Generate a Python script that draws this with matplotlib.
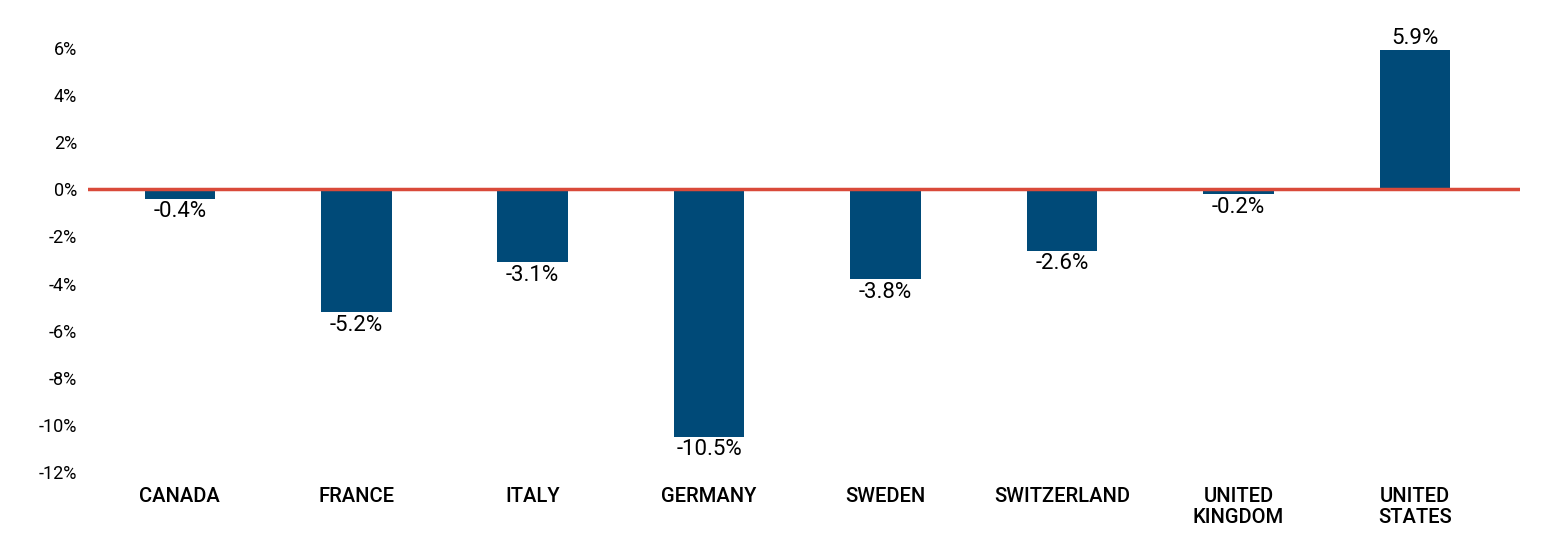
import matplotlib.pyplot as plt
import numpy as np

countries = ["CANADA", "FRANCE", "ITALY", "GERMANY", "SWEDEN", "SWITZERLAND", "UNITED\nKINGDOM", "UNITED\nSTATES"]
values = [-0.4, -5.2, -3.1, -10.5, -3.8, -2.6, -0.2, 5.9]
yticks = [-12, -10, -8, -6, -4, -2, 0, 2, 4, 6]

plt.rcParams['font.family'] = ['Roboto', 'DejaVu Sans']

fig = plt.figure(figsize=(15.5, 5.48), dpi=100)
ax = fig.add_axes([0.0568, 0.1387, 0.9238, 0.8168])

x = np.arange(len(countries))
bars = ax.bar(x, values, width=0.4, color="#004a78", zorder=2)
ax.axhline(0, color="#d94a3a", linewidth=2.5, zorder=3)

# value labels under negative bars, over positive ones
for xi, v in zip(x, values):
    if v < 0:
        ax.annotate("%.1f%%" % v, (xi, v), xytext=(0, -2), textcoords="offset points",
                    ha="center", va="top", fontsize=16)
    else:
        ax.annotate("%.1f%%" % v, (xi, v), xytext=(0, 1), textcoords="offset points",
                    ha="center", va="bottom", fontsize=16)

ax.set_xlim(-0.52, 7.595)
ax.set_ylim(-12, 7)
ax.set_yticks(yticks)
ax.set_yticklabels(["%d%%" % t for t in yticks], fontsize=13)
ax.set_xticks(x)
ax.set_xticklabels(countries, fontsize=14.5, fontweight='medium', linespacing=1.1)
ax.tick_params(axis='both', length=0)
ax.tick_params(axis='y', pad=8)
ax.tick_params(axis='x', pad=11)
for s in ax.spines.values():
    s.set_visible(False)

fig.savefig("out.png", dpi=100)
